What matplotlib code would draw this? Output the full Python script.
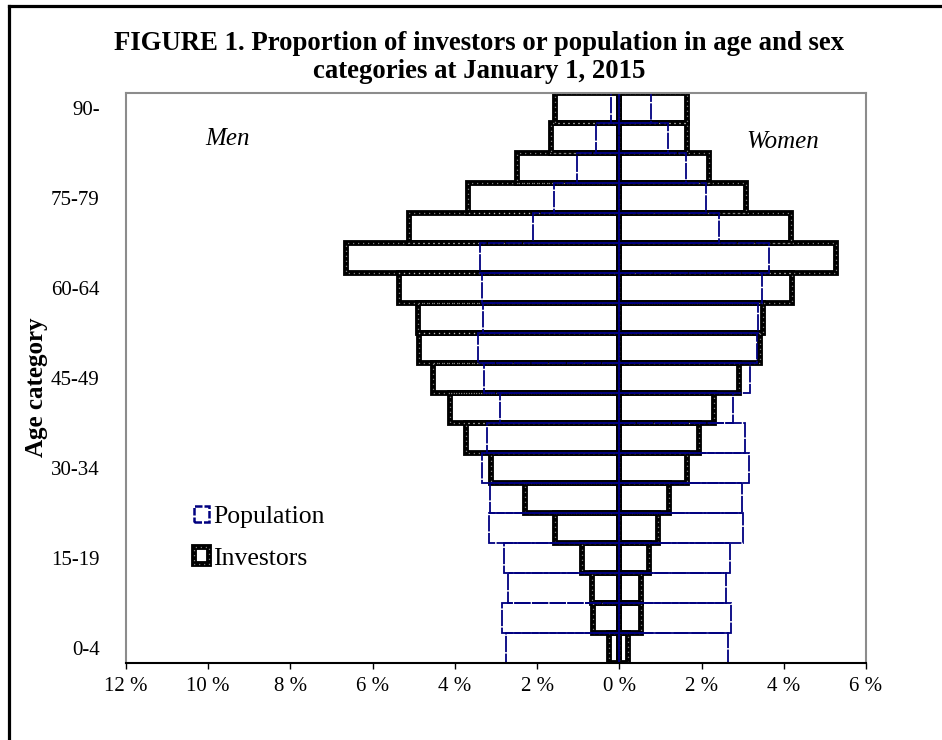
import matplotlib
matplotlib.use("Agg")
import matplotlib.pyplot as plt
from matplotlib.patches import Patch
from matplotlib.lines import Line2D
from matplotlib.legend_handler import HandlerTuple
import numpy as np

plt.rcParams["font.family"] = ["Liberation Serif", "DejaVu Serif"]

# age categories, bottom to top
ages = ["0-4", "5-9", "10-14", "15-19", "20-24", "25-29", "30-34", "35-39",
        "40-44", "45-49", "50-54", "55-59", "60-64", "65-69", "70-74",
        "75-79", "80-84", "85-89", "90-"]
# percentages
men_pop = [2.76, 2.85, 2.72, 2.81, 3.16, 3.15, 3.35, 3.21, 2.90, 3.29,
           3.43, 3.32, 3.35, 3.39, 2.09, 1.59, 1.04, 0.57, 0.21]
men_inv = [0.24, 0.63, 0.67, 0.92, 1.56, 2.29, 3.13, 3.74, 4.12, 4.54,
           4.87, 4.89, 5.35, 6.66, 5.11, 3.67, 2.48, 1.65, 1.56]
women_pop = [2.65, 2.72, 2.60, 2.69, 3.02, 2.98, 3.16, 3.06, 2.76, 3.18,
             3.34, 3.37, 3.48, 3.64, 2.43, 2.11, 1.61, 1.19, 0.76]
women_inv = [0.20, 0.53, 0.53, 0.71, 0.95, 1.22, 1.65, 1.95, 2.31, 2.91,
             3.41, 3.50, 4.21, 5.27, 4.18, 3.08, 2.19, 1.65, 1.65]
xtick_vals = [-12, -10, -8, -6, -4, -2, 0, 2, 4, 6]

NAVY = "#000080"
W, H = 942, 740
fig = plt.figure(figsize=(W / 100, H / 100), dpi=100)
ax = fig.add_axes([126 / W, 1 - 663 / H, 740 / W, 570 / H])

y = np.arange(len(ages))
INV_LW = 4.2
DOTS = (0, (0.5, 3.5))


def inv_bars(vals):
    # thick black outline with small white dots, like the Excel pattern line
    ax.barh(y, vals, height=1.0, fill=False, edgecolor="black", linewidth=INV_LW)
    ax.barh(y, vals, height=1.0, fill=False, edgecolor="white", linewidth=0.9,
            linestyle=DOTS)


def pop_bars(vals):
    ax.barh(y, vals, height=1.0, fill=False, edgecolor=NAVY, linewidth=1.3,
            linestyle=(0, (9, 0.8)))


inv_bars(-np.array(men_inv)); inv_bars(women_inv)
pop_bars(-np.array(men_pop)); pop_bars(women_pop)

ax.set_xlim(-12, 6); ax.set_ylim(-0.5, len(ages) - 0.5)
ax.set_xticks(xtick_vals)
ax.set_xticklabels([f"{abs(v)} %" for v in xtick_vals], fontsize=15)
ax.set_yticks(y[::3]); ax.set_yticklabels(ages[::3], fontsize=15)
ax.tick_params(axis="y", length=0, pad=19)
ax.tick_params(axis="x", length=4, width=1, direction="out", pad=6)
for s in ("left", "top", "right"):
    ax.spines[s].set_color("#8c8c8c"); ax.spines[s].set_linewidth(1.5)
ax.spines["bottom"].set_color("black"); ax.spines["bottom"].set_linewidth(1.5)

fig.text(228 / W, 1 - 139 / H, "Men", style="italic", fontsize=18, ha="center", va="center")
fig.text(783 / W, 1 - 142 / H, "Women", style="italic", fontsize=18, ha="center", va="center")
fig.text(37 / W, 1 - 387 / H, "Age category", rotation=90, fontsize=18,
         fontweight="bold", ha="center", va="center")
fig.text(479 / W, 1 - 50 / H,
         "FIGURE 1. Proportion of investors or population in age and sex",
         fontsize=19.3, fontweight="bold", ha="center", va="baseline")
fig.text(479 / W, 1 - 78 / H, "categories at January 1, 2015",
         fontsize=19.3, fontweight="bold", ha="center", va="baseline")

h_pop = Patch(facecolor="white", edgecolor=NAVY, linewidth=1.8, linestyle=(0, (3, 0.8)))
h_inv = (Patch(facecolor="white", edgecolor="black", linewidth=INV_LW),
         Patch(fill=False, edgecolor="white", linewidth=0.9, linestyle=DOTS))
ax.legend([h_pop, h_inv], ["Population", "Investors"], loc="upper left",
          bbox_to_anchor=(194 / W, 1 - 506 / H), bbox_transform=fig.transFigure,
          frameon=False, fontsize=18.5, handlelength=0.6, handleheight=0.6,
          handletextpad=0.15, labelspacing=0.75, borderpad=0, borderaxespad=0,
          handler_map={tuple: HandlerTuple(ndivide=1)})

# outer frame of the figure (only left and top edges are visible)
fig.add_artist(Line2D([8.5 / W, 8.5 / W], [0, 1 - 5.5 / H], color="black", lw=2.3))
fig.add_artist(Line2D([8.5 / W, 1], [1 - 5.5 / H, 1 - 5.5 / H], color="black", lw=2.3))

fig.savefig("out.png", dpi=100)
